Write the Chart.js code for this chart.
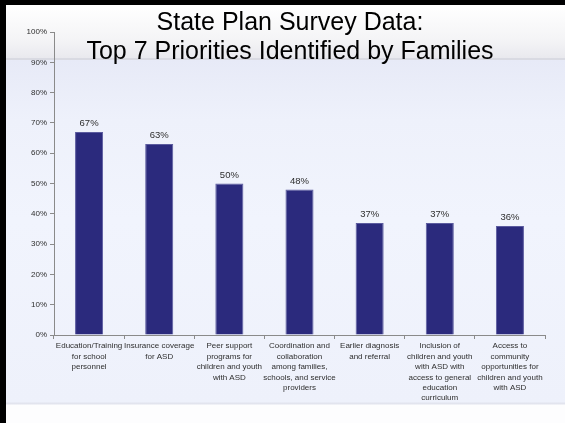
<!DOCTYPE html>
<html>
<head>
<meta charset="utf-8">
<script src="https://cdn.jsdelivr.net/npm/chart.js@4/dist/chart.umd.min.js"></script>
<style>
  html, body { margin: 0; padding: 0; background: #ffffff; }
  #slide {
    position: absolute; left: 0; top: 0; width: 565px; height: 423px;
    background: linear-gradient(to bottom,
      #000000 0px, #000000 5px,
      #ffffff 5px, #f4f4f6 40px, #e9e9ee 58px,
      #d9dae2 58px, #d9dae2 60px,
      #e7eaf7 60px, #eef1fb 120px, #f1f4fd 220px, #eef1fb 402px,
      #e2e4ee 403px, #e2e4ee 404px,
      #fdfdfe 405px, #fdfdfe 423px);
  }
  #slide::before {
    content: ""; position: absolute; left: 0; top: 0; width: 6px; height: 423px; background: #000;
  }
  #wrap { position: absolute; left: 0; top: 0; width: 565px; height: 423px; }
</style>
</head>
<body>
<div id="slide"></div>
<div id="wrap"><canvas id="chart" width="565" height="423"></canvas></div>
<script>
// Survey results: share of families naming each item as a priority
const categories = [
  ["Education/Training", "for school", "personnel"],
  ["Insurance coverage", "for ASD"],
  ["Peer support", "programs for", "children and youth", "with ASD"],
  ["Coordination and", "collaboration", "among families,", "schools, and service", "providers"],
  ["Earlier diagnosis", "and referral"],
  ["Inclusion of", "children and youth", "with ASD with", "access to general", "education", "curriculum"],
  ["Access to", "community", "opportunities for", "children and youth", "with ASD"]
];
const values = [0.67, 0.63, 0.50, 0.48, 0.37, 0.37, 0.36];
const titleLines = ["State Plan Survey Data:", "Top 7 Priorities Identified by Families"];

const pct = v => Math.round(v * 100) + "%";

// Value labels above each bar
const valueLabels = {
  id: "valueLabels",
  afterDatasetsDraw(chart) {
    const ctx = chart.ctx;
    const meta = chart.getDatasetMeta(0);
    ctx.save();
    ctx.font = "9.5px 'Liberation Sans', Arial, sans-serif";
    ctx.fillStyle = "#2e2e2e";
    ctx.textAlign = "center";
    ctx.textBaseline = "alphabetic";
    meta.data.forEach((bar, i) => {
      ctx.fillText(pct(values[i]), bar.x, bar.y - 6);
    });
    ctx.restore();
  }
};

// Slide heading drawn over the top of the plot
const slideTitle = {
  id: "slideTitle",
  afterDraw(chart) {
    const ctx = chart.ctx;
    ctx.save();
    ctx.font = "25px 'Liberation Sans', Arial, sans-serif";
    ctx.fillStyle = "#000000";
    ctx.textAlign = "center";
    ctx.textBaseline = "alphabetic";
    ctx.fillText(titleLines[0], 290, 30);
    ctx.fillText(titleLines[1], 290, 59);
    ctx.restore();
  }
};

new Chart(document.getElementById("chart"), {
  type: "bar",
  data: {
    labels: categories,
    datasets: [{
      data: values,
      backgroundColor: "#2b2a7d",
      borderColor: "#5b5b9f",
      borderWidth: 1,
      barPercentage: 0.4,
      categoryPercentage: 1.0
    }]
  },
  options: {
    responsive: false,
    animation: false,
    events: [],
    layout: { padding: { left: 0, right: 20, top: 32, bottom: 0 } },
    plugins: { legend: { display: false }, tooltip: { enabled: false }, title: { display: false } },
    scales: {
      x: {
        offset: true,
        afterFit: s => { s.height = 88; },
        grid: { drawOnChartArea: false, drawTicks: true, tickLength: 4, color: "#8a8a8a", offset: true },
        border: { display: true, color: "#8a8a8a", width: 1 },
        ticks: {
          autoSkip: false, maxRotation: 0, minRotation: 0, padding: 2,
          color: "#2e2e2e",
          font: { family: "'Liberation Sans', Arial, sans-serif", size: 8, lineHeight: 1.3 }
        }
      },
      y: {
        min: 0, max: 1,
        afterFit: s => { s.width = 54; },
        grid: { drawOnChartArea: false, drawTicks: true, tickLength: 4, color: "#8a8a8a" },
        border: { display: true, color: "#8a8a8a", width: 1 },
        ticks: {
          stepSize: 0.1, padding: 3,
          color: "#2e2e2e",
          font: { family: "'Liberation Sans', Arial, sans-serif", size: 8 },
          callback: v => pct(v)
        }
      }
    }
  },
  plugins: [valueLabels, slideTitle]
});
</script>
</body>
</html>
